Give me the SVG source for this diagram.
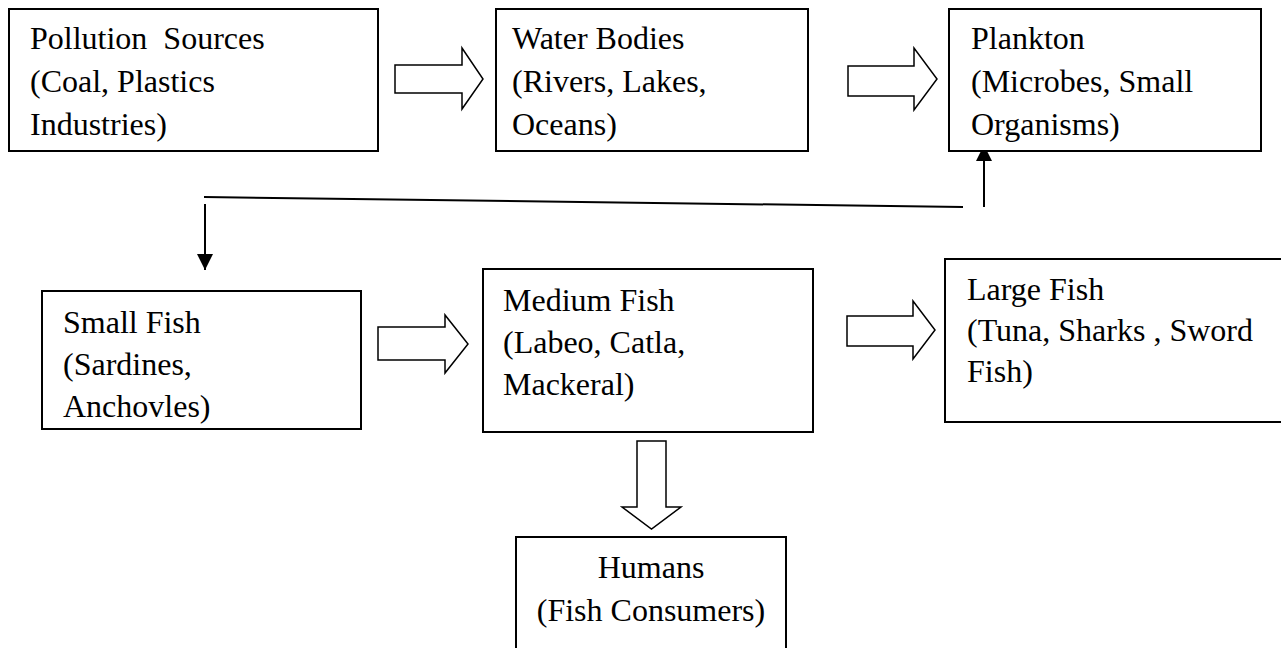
<svg xmlns="http://www.w3.org/2000/svg" width="1281" height="648" viewBox="0 0 1281 648">
  <style>
    .box { fill: #ffffff; stroke: #000000; stroke-width: 2; }
    .txt { font-family: "Liberation Serif", "Times New Roman", serif; font-size: 32px; fill: #000000; }
    .hollow { fill: #ffffff; stroke: #000000; stroke-width: 1.5; stroke-linejoin: miter; }
    .line { fill: none; stroke: #000000; stroke-width: 2; }
  </style>
  <defs>
    <marker id="head" markerUnits="userSpaceOnUse" markerWidth="16" markerHeight="16" refX="16" refY="8" orient="auto">
      <path d="M0,0 L16,8 L0,16 z" fill="#000000"/>
    </marker>
  </defs>
  <rect width="1281" height="648" fill="#ffffff"/>

  <g id="connectors">
    <polygon class="hollow" points="395,65 462,65 462,48 483,79 462,109 462,93 395,93"/>
    <polygon class="hollow" points="848,66 914,66 914,48 937,79 914,110 914,96 848,96"/>
    <polygon class="hollow" points="378,327 445,327 445,315 468,344 445,373 445,360 378,360"/>
    <polygon class="hollow" points="847,316 913,316 913,301 935,330 913,359 913,346 847,346"/>
    <polygon class="hollow" points="637,441 666,441 666,507 681,507 651.5,529 622,507 637,507"/>
    <line class="line" x1="204" y1="197" x2="963" y2="207"/>
    <line class="line" x1="205" y1="204" x2="205" y2="270" marker-end="url(#head)"/>
    <line class="line" x1="984" y1="207" x2="984" y2="145" marker-end="url(#head)"/>
  </g>

  <g id="pollution">
    <rect class="box" x="9" y="9" width="369" height="142"/>
    <text class="txt" x="30" y="49" xml:space="preserve">Pollution  Sources</text>
    <text class="txt" x="30" y="92">(Coal, Plastics</text>
    <text class="txt" x="30" y="135">Industries)</text>
  </g>

  <g id="water">
    <rect class="box" x="496" y="9" width="312" height="142"/>
    <text class="txt" x="512" y="49">Water Bodies</text>
    <text class="txt" x="512" y="92">(Rivers, Lakes,</text>
    <text class="txt" x="512" y="135">Oceans)</text>
  </g>

  <g id="plankton">
    <rect class="box" x="949" y="9" width="312" height="142"/>
    <text class="txt" x="971" y="49">Plankton</text>
    <text class="txt" x="971" y="92">(Microbes, Small</text>
    <text class="txt" x="971" y="135">Organisms)</text>
  </g>

  <g id="smallfish">
    <rect class="box" x="42" y="291" width="319" height="138"/>
    <text class="txt" x="63" y="333">Small Fish</text>
    <text class="txt" x="63" y="375">(Sardines,</text>
    <text class="txt" x="63" y="417">Anchovles)</text>
  </g>

  <g id="mediumfish">
    <rect class="box" x="483" y="269" width="330" height="163"/>
    <text class="txt" x="503" y="311">Medium Fish</text>
    <text class="txt" x="503" y="353">(Labeo, Catla,</text>
    <text class="txt" x="503" y="395">Mackeral)</text>
  </g>

  <g id="largefish">
    <rect class="box" x="945" y="259" width="350" height="163"/>
    <text class="txt" x="967" y="300">Large Fish</text>
    <text class="txt" x="967" y="341">(Tuna, Sharks , Sword</text>
    <text class="txt" x="967" y="382">Fish)</text>
  </g>

  <g id="humans">
    <rect class="box" x="516" y="537" width="270" height="130"/>
    <text class="txt" x="651" y="578" text-anchor="middle">Humans</text>
    <text class="txt" x="651" y="621" text-anchor="middle">(Fish Consumers)</text>
  </g>
</svg>
